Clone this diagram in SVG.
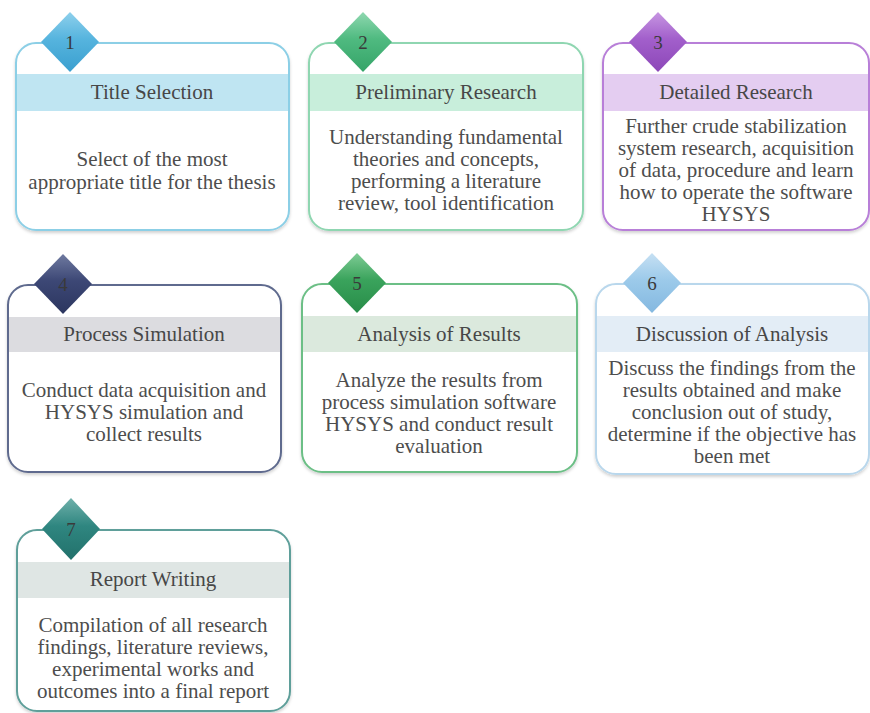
<svg xmlns="http://www.w3.org/2000/svg" width="870" height="713" viewBox="0 0 870 713">
  <style>
    .card { fill: #ffffff; stroke-width: 2; }
    .title { font-family: "Liberation Serif", "Times New Roman", serif; font-size: 21px; fill: #474747; text-anchor: middle; }
    .body { font-family: "Liberation Serif", "Times New Roman", serif; font-size: 21px; fill: #4d4d4d; text-anchor: middle; }
    .num { font-family: "Liberation Serif", "Times New Roman", serif; font-size: 19px; fill: #3a3a3a; text-anchor: middle; }
  </style>
  <defs>
    <filter id="shadow" x="-5%" y="-5%" width="110%" height="115%">
      <feDropShadow dx="0" dy="2" stdDeviation="1.5" flood-color="#000" flood-opacity="0.18"/>
    </filter>
    <linearGradient id="d1" x1="0" y1="0" x2="0" y2="1">
      <stop offset="0" stop-color="#8ed0ec"/><stop offset="0.45" stop-color="#56b4de"/><stop offset="1" stop-color="#3a9fcf"/>
    </linearGradient>
    <linearGradient id="d2" x1="0" y1="0" x2="0" y2="1">
      <stop offset="0" stop-color="#8fd8b0"/><stop offset="0.45" stop-color="#4fba80"/><stop offset="1" stop-color="#35a468"/>
    </linearGradient>
    <linearGradient id="d3" x1="0" y1="0" x2="0" y2="1">
      <stop offset="0" stop-color="#c796e2"/><stop offset="0.45" stop-color="#a25fcb"/><stop offset="1" stop-color="#8c47b8"/>
    </linearGradient>
    <linearGradient id="d4" x1="0" y1="0" x2="0" y2="1">
      <stop offset="0" stop-color="#6f7aa0"/><stop offset="0.45" stop-color="#3c4775"/><stop offset="1" stop-color="#2c365f"/>
    </linearGradient>
    <linearGradient id="d5" x1="0" y1="0" x2="0" y2="1">
      <stop offset="0" stop-color="#7fcc95"/><stop offset="0.45" stop-color="#3aa35c"/><stop offset="1" stop-color="#278c48"/>
    </linearGradient>
    <linearGradient id="d6" x1="0" y1="0" x2="0" y2="1">
      <stop offset="0" stop-color="#c6e0f3"/><stop offset="0.45" stop-color="#9ccaea"/><stop offset="1" stop-color="#84b8e0"/>
    </linearGradient>
    <linearGradient id="d7" x1="0" y1="0" x2="0" y2="1">
      <stop offset="0" stop-color="#6fb0aa"/><stop offset="0.45" stop-color="#2f8680"/><stop offset="1" stop-color="#22716b"/>
    </linearGradient>
  </defs>

  <rect width="870" height="713" fill="#ffffff"/>

  <!-- Step 1 -->
  <g id="step1">
    <rect class="card" x="16" y="43" width="273" height="187" rx="20" stroke="#8ccfe6" filter="url(#shadow)"/>
    <rect x="17" y="74" width="271" height="37" fill="#bfe5f2"/>
    <polygon points="70,12 99,42 70,72 41,42" fill="url(#d1)"/>
    <text class="num" x="70" y="49">1</text>
    <text class="title" x="152" y="99">Title Selection</text>
    <text class="body" x="152" y="166">Select of the most</text>
    <text class="body" x="152" y="189">appropriate title for the thesis</text>
  </g>

  <!-- Step 2 -->
  <g id="step2">
    <rect class="card" x="309" y="43" width="274" height="187" rx="20" stroke="#8fd6b1" filter="url(#shadow)"/>
    <rect x="310" y="74" width="272" height="37" fill="#c8eedb"/>
    <polygon points="363,12 392,42 363,72 334,42" fill="url(#d2)"/>
    <text class="num" x="363" y="49">2</text>
    <text class="title" x="446" y="99">Preliminary Research</text>
    <text class="body" x="446" y="144">Understanding fundamental</text>
    <text class="body" x="446" y="166">theories and concepts,</text>
    <text class="body" x="446" y="188">performing a literature</text>
    <text class="body" x="446" y="210">review, tool identification</text>
  </g>

  <!-- Step 3 -->
  <g id="step3">
    <rect class="card" x="603" y="43" width="266" height="187" rx="20" stroke="#b87fd8" filter="url(#shadow)"/>
    <rect x="604" y="74" width="264" height="37" fill="#e4cdf1"/>
    <polygon points="658,12 687,42 658,72 629,42" fill="url(#d3)"/>
    <text class="num" x="658" y="49">3</text>
    <text class="title" x="736" y="99">Detailed Research</text>
    <text class="body" x="736" y="133">Further crude stabilization</text>
    <text class="body" x="736" y="155">system research, acquisition</text>
    <text class="body" x="736" y="177">of data, procedure and learn</text>
    <text class="body" x="736" y="199">how to operate the software</text>
    <text class="body" x="736" y="221">HYSYS</text>
  </g>

  <!-- Step 4 -->
  <g id="step4">
    <rect class="card" x="8" y="285" width="273" height="187" rx="20" stroke="#5f6b8e" filter="url(#shadow)"/>
    <rect x="9" y="317" width="271" height="35" fill="#dcdce0"/>
    <polygon points="63,254 92,284 63,314 34,284" fill="url(#d4)"/>
    <text class="num" x="63" y="291">4</text>
    <text class="title" x="144" y="341">Process Simulation</text>
    <text class="body" x="144" y="397">Conduct data acquisition and</text>
    <text class="body" x="144" y="419">HYSYS simulation and</text>
    <text class="body" x="144" y="441">collect results</text>
  </g>

  <!-- Step 5 -->
  <g id="step5">
    <rect class="card" x="302" y="284" width="275" height="188" rx="20" stroke="#6cbf86" filter="url(#shadow)"/>
    <rect x="303" y="316" width="273" height="36" fill="#dbe9dd"/>
    <polygon points="357,253 386,283 357,313 328,283" fill="url(#d5)"/>
    <text class="num" x="357" y="290">5</text>
    <text class="title" x="439" y="341">Analysis of Results</text>
    <text class="body" x="439" y="387">Analyze the results from</text>
    <text class="body" x="439" y="409">process simulation software</text>
    <text class="body" x="439" y="431">HYSYS and conduct result</text>
    <text class="body" x="439" y="453">evaluation</text>
  </g>

  <!-- Step 6 -->
  <g id="step6">
    <rect class="card" x="596" y="284" width="273" height="190" rx="20" stroke="#b9d7ec" filter="url(#shadow)"/>
    <rect x="597" y="316" width="271" height="36" fill="#e3edf6"/>
    <polygon points="652,253 681,283 652,313 623,283" fill="url(#d6)"/>
    <text class="num" x="652" y="290">6</text>
    <text class="title" x="732" y="341">Discussion of Analysis</text>
    <text class="body" x="732" y="375">Discuss the findings from the</text>
    <text class="body" x="732" y="397">results obtained and make</text>
    <text class="body" x="732" y="419">conclusion out of study,</text>
    <text class="body" x="732" y="441">determine if the objective has</text>
    <text class="body" x="732" y="463">been met</text>
  </g>

  <!-- Step 7 -->
  <g id="step7">
    <rect class="card" x="17" y="530" width="273" height="181" rx="20" stroke="#5e9f9a" filter="url(#shadow)"/>
    <rect x="18" y="562" width="271" height="36" fill="#dfe6e4"/>
    <polygon points="71,498 100,529 71,560 42,529" fill="url(#d7)"/>
    <text class="num" x="71" y="536">7</text>
    <text class="title" x="153" y="586">Report Writing</text>
    <text class="body" x="153" y="632">Compilation of all research</text>
    <text class="body" x="153" y="654">findings, literature reviews,</text>
    <text class="body" x="153" y="676">experimental works and</text>
    <text class="body" x="153" y="698">outcomes into a final report</text>
  </g>
</svg>
